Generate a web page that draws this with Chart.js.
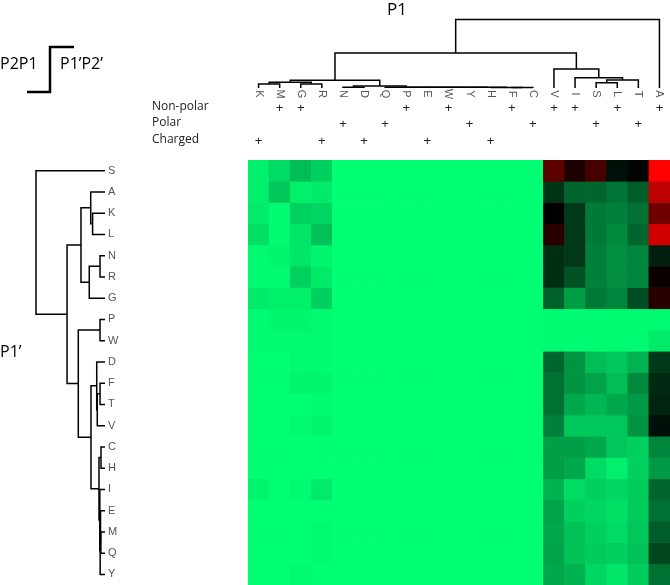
<!DOCTYPE html>
<html>
<head>
<meta charset="utf-8">
<script src="https://cdn.jsdelivr.net/npm/chart.js@4.4.0/dist/chart.umd.min.js"></script>
<style>
  body { margin: 0; background: #fff; }
  #caja { width: 670px; height: 585px; }
</style>
</head>
<body>
<div id="caja"><canvas id="mapa" width="670" height="585"></canvas></div>
<script>
// columnas (P1) y filas (P1') en el orden del dendrograma
const columnas = ['K','M','G','R','N','D','Q','P','E','W','Y','H','F','C','V','I','S','L','T','A'];
const filas = ['S','A','K','L','N','R','G','P','W','D','F','T','V','C','H','I','E','M','Q','Y'];

// intensidad: 0 = verde, 50 = negro, 100 = rojo
const valores = [
  [3,7,13,9, 0,0,0,0,0,0,0,0,0,0, 68,56,64,47,49,100],
  [3,11,3,4, 0,0,0,0,0,0,0,0,0,0, 40,30,30,27,32,87],
  [4,1,9,8, 0,0,0,0,0,0,0,0,0,0, 50,39,26,25,28,72],
  [6,1,5,12, 0,0,0,0,0,0,0,0,0,0, 58,39,26,23,30,91],
  [1,2,5,2, 0,0,0,0,0,0,0,0,0,0, 41,39,25,22,24,44],
  [1,1,9,4, 0,0,0,0,0,0,0,0,0,0, 41,34,25,22,24,52],
  [4,3,3,9, 0,0,0,0,0,0,0,0,0,0, 31,19,26,24,35,58],
  [1,2,2,1, 0,0,0,0,0,0,0,0,0,0, 1,1,1,1,1,1],
  [1,1,1,1, 0,0,0,0,0,0,0,0,0,0, 1,1,1,1,1,4],
  [0,0,1,1, 0,0,0,0,0,0,0,0,0,0, 30,21,13,11,15,39],
  [0,0,2,2, 0,0,0,0,0,0,0,0,0,0, 28,21,18,13,23,42],
  [0,0,0,1, 0,0,0,0,0,0,0,0,0,0, 28,17,14,17,20,43],
  [0,0,1,2, 0,0,0,0,0,0,0,0,0,0, 25,11,11,11,21,47],
  [0,0,0,0, 0,0,0,0,0,0,0,0,0,0, 19,19,17,11,9,24],
  [0,0,0,0, 0,0,0,0,0,0,0,0,0,0, 19,17,7,3,9,20],
  [2,0,1,4, 0,0,0,0,0,0,0,0,0,0, 15,7,9,8,10,30],
  [0,0,0,0, 0,0,0,0,0,0,0,0,0,0, 18,9,8,6,10,28],
  [0,0,0,1, 0,0,0,0,0,0,0,0,0,0, 17,12,9,7,11,32],
  [0,0,0,1, 0,0,0,0,0,0,0,0,0,0, 18,12,10,9,12,36],
  [0,0,1,0, 0,0,0,0,0,0,0,0,0,0, 17,15,8,5,10,28]
];

// propiedades de los aminoacidos
const noPolares = ['M','G','P','W','F','V','I','L','A'];
const polares = ['N','Q','Y','C','S','T'];
const cargados = ['K','R','D','E','H'];
const propiedades = ['Non-polar', 'Polar', 'Charged'];

// dendrogramas: [izq, der, altura] (altura 0..1)
const dendroColumnas = [
  [
    [
      [['K','M',0.058], ['G','R',0.058], 0.083],
      [['N','D',0.01], ['Q',['P',['E',['W',['Y',['H',['F','C',0.008],0.009],0.01],0.01],0.01],0.01],0.012], 0.03],
      0.112
    ],
    ['V', ['I', [['S','L',0.077], 'T', 0.117], 0.15], 0.277],
    0.51
  ],
  'A', 1.0
];

const dendroFilas = [
  'S',
  [
    [['A',['K','L',0.18],0.207], [['N','R',0.072],'G',0.228], 0.348],
    [
      ['P','W',0.072],
      [
        ['D',[['F','T',0.072],'V',0.112],0.12],
        [['C','H',0.058], ['I',[['E',['M','Q',0.06],0.065],'Y',0.07],0.075], 0.087],
        0.203
      ],
      0.387
    ],
    0.55
  ],
  1.0
];

function colorDe(v) {
  if (v <= 50) {
    const t = v / 50;
    return 'rgb(0,' + Math.round(255 * (1 - t)) + ',' + Math.round(115 * (1 - t)) + ')';
  }
  const t = (v - 50) / 50;
  return 'rgb(' + Math.round(255 * t) + ',0,0)';
}

// una serie apilada por fila
const series = filas.map((f, i) => ({
  label: f,
  data: columnas.map(() => 1),
  backgroundColor: valores[i].map(colorDe),
  borderWidth: 0,
  barPercentage: 1,
  categoryPercentage: 1
}));

// recorre el arbol y dibuja los brazos
function dibujarArbol(ctx, nodo, posHoja, posAltura, vertical) {
  if (typeof nodo === 'string') {
    return { p: posHoja(nodo), h: 0 };
  }
  const a = dibujarArbol(ctx, nodo[0], posHoja, posAltura, vertical);
  const b = dibujarArbol(ctx, nodo[1], posHoja, posAltura, vertical);
  const h = nodo[2];
  ctx.beginPath();
  if (vertical) {
    ctx.moveTo(a.p, posAltura(a.h));
    ctx.lineTo(a.p, posAltura(h));
    ctx.lineTo(b.p, posAltura(h));
    ctx.lineTo(b.p, posAltura(b.h));
  } else {
    ctx.moveTo(posAltura(a.h), a.p);
    ctx.lineTo(posAltura(h), a.p);
    ctx.lineTo(posAltura(h), b.p);
    ctx.lineTo(posAltura(b.h), b.p);
  }
  ctx.stroke();
  return { p: (a.p + b.p) / 2, h: h };
}

const extras = {
  id: 'extras',
  afterDraw(chart) {
    const ctx = chart.ctx;
    const x = chart.scales.x;
    const y = chart.scales.y;
    const colX = c => x.getPixelForValue(columnas.indexOf(c));
    const filaY = f => y.getPixelForValue(filas.indexOf(f) + 0.5);

    ctx.save();
    // dendrogramas
    ctx.strokeStyle = '#000';
    ctx.lineWidth = 1.5;
    dibujarArbol(ctx, dendroColumnas, colX, h => 88 - h * 68.5, true);
    dibujarArbol(ctx, dendroFilas, filaY, h => 105 - h * 69, false);

    // etiquetas de columnas (giradas)
    ctx.fillStyle = '#555';
    ctx.font = '11px "Liberation Sans", Arial, sans-serif';
    ctx.textAlign = 'center';
    ctx.textBaseline = 'middle';
    columnas.forEach(c => {
      ctx.save();
      ctx.translate(colX(c), 94);
      ctx.rotate(Math.PI / 2);
      ctx.fillText(c, 0, 0);
      ctx.restore();
    });

    // etiquetas de filas
    ctx.textAlign = 'left';
    filas.forEach(f => ctx.fillText(f, 108, filaY(f)));

    // marcas de propiedades
    ctx.fillStyle = '#222';
    ctx.font = '13px "Liberation Sans", Arial, sans-serif';
    ctx.textAlign = 'center';
    [noPolares, polares, cargados].forEach((grupo, k) => {
      const yy = [108, 124, 141][k];
      grupo.forEach(c => ctx.fillText('+', colX(c), yy));
    });
    ctx.font = '12px "Open Sans", sans-serif';
    ctx.textAlign = 'left';
    propiedades.forEach((p, k) => ctx.fillText(p, 152, [107, 123, 140][k]));

    // titulos
    ctx.fillStyle = '#000';
    ctx.font = '17px "Open Sans", sans-serif';
    ctx.textAlign = 'center';
    ctx.fillText('P1', 397, 10);
    ctx.textAlign = 'left';
    ctx.font = '16px "Open Sans", sans-serif';
    ctx.fillText('P1\u2019', 0, 352);
    ctx.fillText('P2P1', 0, 64);
    ctx.fillText('P1\u2019P2\u2019', 60, 64);

    // corchete de corte
    ctx.lineWidth = 2.5;
    ctx.beginPath();
    ctx.moveTo(74, 47);
    ctx.lineTo(50, 47);
    ctx.lineTo(50, 92);
    ctx.lineTo(27, 92);
    ctx.stroke();
    ctx.restore();
  }
};

new Chart(document.getElementById('mapa'), {
  type: 'bar',
  data: { labels: columnas, datasets: series },
  options: {
    responsive: false,
    animation: false,
    layout: { padding: { left: 248, top: 160, right: 0, bottom: 0 } },
    plugins: { legend: { display: false }, tooltip: { enabled: false } },
    scales: {
      x: { display: false, stacked: true, grid: { display: false } },
      y: { display: false, stacked: true, reverse: true, min: 0, max: filas.length, grid: { display: false } }
    }
  },
  plugins: [extras]
});
</script>
</body>
</html>
